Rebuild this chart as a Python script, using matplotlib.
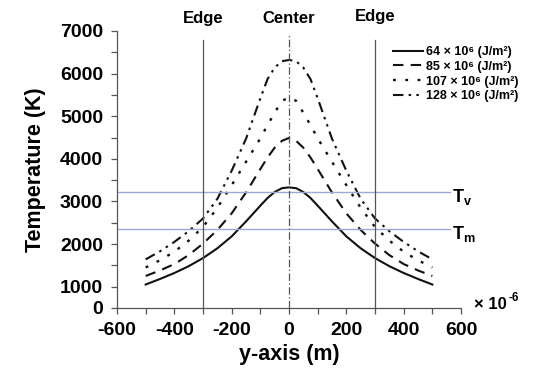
import matplotlib.pyplot as plt

plt.rcParams['font.family'] = ['Liberation Sans', 'DejaVu Sans']
plt.rcParams['font.weight'] = 'bold'
plt.rcParams['axes.unicode_minus'] = False
plt.rcParams['mathtext.default'] = 'regular'

# positions along y (um) and temperatures (K) for each fluence
y_pos = [-500, -450, -400, -350, -300, -250, -200, -150, -100, -75, -50, -25, 0,
         25, 50, 75, 100, 150, 200, 250, 300, 350, 400, 450, 500]
t_64 = [1050, 1180, 1320, 1480, 1670, 1900, 2180, 2530, 2900, 3080, 3220, 3310, 3330,
        3310, 3220, 3080, 2900, 2530, 2180, 1900, 1670, 1480, 1320, 1180, 1050]
t_85 = [1250, 1380, 1530, 1740, 2010, 2330, 2720, 3210, 3760, 4030, 4260, 4420, 4490,
        4420, 4260, 4030, 3760, 3210, 2720, 2330, 2010, 1740, 1530, 1380, 1250]
t_107 = [1450, 1620, 1820, 2080, 2400, 2850, 3380, 3930, 4480, 4790, 5080, 5360, 5440,
         5360, 5080, 4790, 4480, 3930, 3380, 2850, 2400, 2080, 1820, 1620, 1450]
t_128 = [1640, 1830, 2050, 2300, 2600, 3060, 3720, 4470, 5420, 5870, 6140, 6290, 6320,
         6290, 6140, 5870, 5420, 4470, 3720, 3060, 2600, 2300, 2050, 1830, 1640]
labels = ['64 × 10⁶ (J/m²)', '85 × 10⁶ (J/m²)',
          '107 × 10⁶ (J/m²)', '128 × 10⁶ (J/m²)']

t_v = 3230
t_m = 2360

fig = plt.figure(figsize=(5.36, 3.76), dpi=100)
ax = fig.add_axes([0.2183, 0.181, 0.6418, 0.7366])

ax.plot(y_pos, t_64, color='#111111', lw=1.5, label=labels[0])
ax.plot(y_pos, t_85, color='#111111', lw=1.5, dashes=(5, 3.5), label=labels[1])
ax.plot(y_pos, t_107, color='#111111', lw=1.7, dashes=(1.2, 4), label=labels[2])
ax.plot(y_pos, t_128, color='#111111', lw=1.5, dashes=(5, 2.5, 1.2, 2.5, 1.2, 2.5), label=labels[3])

# melting / vaporization temperature lines
ax.plot([-600, 560], [t_v, t_v], color='#9aaad0', lw=1)
ax.plot([-600, 560], [t_m, t_m], color='#9aaad0', lw=1)
ax.text(570, t_v - 235, 'T$_v$', fontsize=13, va='baseline', ha='left')
ax.text(570, t_m - 235, 'T$_m$', fontsize=13, va='baseline', ha='left')

# edges and center
ax.plot([-300, -300], [500, 6790], color='#555555', lw=0.9, clip_on=False)
ax.plot([300, 300], [500, 6790], color='#555555', lw=0.9, clip_on=False)
ax.plot([0, 0], [500, 6950], color='#555555', lw=0.9, dashes=(6, 2, 1, 2), clip_on=False)
ax.text(-300, 7300, 'Edge', fontsize=12, ha='center', va='center')
ax.text(0, 7300, 'Center', fontsize=12, ha='center', va='center')
ax.text(300, 7330, 'Edge', fontsize=12, ha='center', va='center')

ax.set_xlim(-600, 600)
ax.set_ylim(500, 7000)
ax.set_xticks([-600, -400, -200, 0, 200, 400, 600])
ax.set_xticks(range(-600, 601, 100), minor=True)
ax.set_yticks([500, 1000, 2000, 3000, 4000, 5000, 6000, 7000])
ax.set_yticklabels(['0', '1000', '2000', '3000', '4000', '5000', '6000', '7000'])
ax.set_yticks(range(500, 7001, 500), minor=True)
ax.tick_params(axis='both', labelsize=14, length=4, width=0.9, color='#555555')
ax.tick_params(axis='both', which='minor', length=4, width=0.9, color='#555555')
ax.tick_params(axis='x', pad=6)
ax.tick_params(axis='y', pad=6)
for lab in ax.get_xticklabels() + ax.get_yticklabels():
    lab.set_fontweight('bold')
for s in ['top', 'right']:
    ax.spines[s].set_visible(False)
for s in ['left', 'bottom']:
    ax.spines[s].set_color('#555555')
    ax.spines[s].set_linewidth(0.9)

ax.set_xlabel('y-axis (m)', fontsize=15.5, fontweight='bold', labelpad=4)
ax.set_ylabel('Temperature (K)', fontsize=15.5, fontweight='bold', labelpad=10)

# axis multiplier
fig.text(0.884, 0.190, '× 10', fontsize=12, ha='left', va='center')
fig.text(0.949, 0.207, '-6', fontsize=8.5, ha='left', va='center')

ax.legend(loc='upper left', bbox_to_anchor=(393 / 536, 1 - 46 / 376),
          bbox_transform=fig.transFigure, frameon=False,
          prop={'size': 9, 'weight': 'bold'},
          handlelength=2.4, handletextpad=0.2, labelspacing=0.22, borderaxespad=0,
          borderpad=0)

fig.savefig('out.png', dpi=100)
